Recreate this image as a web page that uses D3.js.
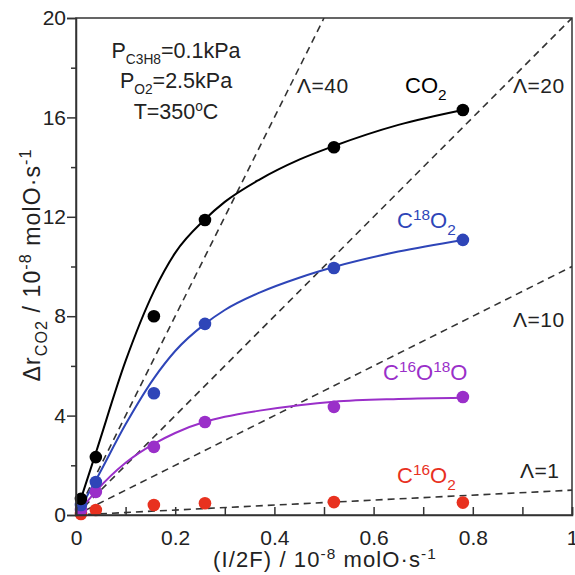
<!DOCTYPE html>
<html>
<head>
<meta charset="utf-8">
<script src="https://cdn.jsdelivr.net/npm/d3@7"></script>
<style>
  html, body { margin: 0; padding: 0; background: #fff; }
  svg { display: block; font-family: "Liberation Sans", Arial, sans-serif; }
</style>
</head>
<body>
<svg id="chart" width="575" height="575"></svg>
<script>
// measured points (x = I/2F, y = delta r)
const xs = [0.01, 0.04, 0.157, 0.26, 0.52, 0.78];
const co2 = [0.65, 2.33, 8.0, 11.87, 14.8, 16.3];
const c18o2 = [0.4, 1.33, 4.9, 7.69, 9.94, 11.07];
const c16o18o = [0.2, 0.93, 2.74, 3.74, 4.35, 4.75];
const c16o2 = [0.04, 0.2, 0.4, 0.47, 0.52, 0.5];

// fitted curves
const fitX = [0.005, 0.04, 0.1, 0.157, 0.2, 0.26, 0.3, 0.37, 0.45, 0.52, 0.65, 0.78];
const co2Fit = [0.35, 2.5, 6.2, 9.0, 10.55, 11.9, 12.6, 13.5, 14.3, 14.85, 15.7, 16.3];
const c18o2Fit = [0.15, 1.4, 3.65, 5.5, 6.6, 7.69, 8.25, 8.95, 9.55, 9.98, 10.6, 11.07];
const c16o18oFit = [0.1, 0.95, 2.1, 2.86, 3.3, 3.75, 3.95, 4.2, 4.42, 4.56, 4.67, 4.72];

// selectivity lines
const lambdas = [1, 10, 20, 40];

const xTicks = [0, 0.2, 0.4, 0.6, 0.8, 1];
const xMinor = [0.1, 0.3, 0.5, 0.7, 0.9];
const yTicks = [0, 4, 8, 12, 16, 20];
const yMinor = [2, 6, 10, 14, 18];

const svg = d3.select("#chart");
const margin = { top: 18, right: 3, bottom: 60, left: 76 };
const W = 575, H = 575;

const x = d3.scaleLinear().domain([0, 1]).range([margin.left, W - margin.right]);
const y = d3.scaleLinear().domain([0, 20]).range([H - margin.bottom, margin.top]);

const axisColor = "#333";
const textColor = "#222";

svg.append("clipPath").attr("id", "plot-clip")
  .append("rect")
  .attr("x", x(0)).attr("y", y(20))
  .attr("width", x(1) - x(0)).attr("height", y(0) - y(20));

// dashed lambda lines
const plot = svg.append("g").attr("clip-path", "url(#plot-clip)");
plot.selectAll("line.lam")
  .data(lambdas)
  .join("line")
  .attr("class", "lam")
  .attr("x1", x(0)).attr("y1", y(0))
  .attr("x2", (d) => x(Math.min(1, 20 / d)))
  .attr("y2", (d) => y(d * Math.min(1, 20 / d)))
  .attr("stroke", axisColor)
  .attr("stroke-width", 1.6)
  .attr("stroke-dasharray", "7,5");

// fitted curves
const line = d3.line()
  .x((d) => x(d[0]))
  .y((d) => y(d[1]))
  .curve(d3.curveMonotoneX);

const fits = [
  { vals: co2Fit, color: "#000000" },
  { vals: c18o2Fit, color: "#2e45b8" },
  { vals: c16o18oFit, color: "#9a2fc9" }
];
fits.forEach((f) => {
  plot.append("path")
    .datum(fitX.map((v, i) => [v, f.vals[i]]))
    .attr("d", line)
    .attr("fill", "none")
    .attr("stroke", f.color)
    .attr("stroke-width", 2);
});

// points
const series = [
  { vals: c16o2, color: "#e8311f" },
  { vals: c16o18o, color: "#9a2fc9" },
  { vals: c18o2, color: "#2e45b8" },
  { vals: co2, color: "#000000" }
];
series.forEach((s) => {
  svg.append("g")
    .selectAll("circle")
    .data(xs.map((v, i) => [v, s.vals[i]]))
    .join("circle")
    .attr("cx", (d) => x(d[0]))
    .attr("cy", (d) => y(d[1]))
    .attr("r", 6.3)
    .attr("fill", s.color);
});

// axes
const fmtX = (d) => (d === 0 || d === 1 ? d3.format("d")(d) : d3.format(".1f")(d));

svg.append("g")
  .attr("transform", `translate(0,${y(0)})`)
  .call(d3.axisBottom(x).tickValues(xTicks).tickSize(-8).tickPadding(15).tickFormat(fmtX));
svg.append("g")
  .attr("transform", `translate(0,${y(0)})`)
  .call(d3.axisBottom(x).tickValues(xMinor).tickSize(-8).tickFormat(""))
  .call((g) => g.select(".domain").remove());

svg.append("g")
  .attr("transform", `translate(${x(0)},0)`)
  .call(d3.axisLeft(y).tickValues(yTicks).tickSize(9).tickPadding(1));
svg.append("g")
  .attr("transform", `translate(${x(0)},0)`)
  .call(d3.axisLeft(y).tickValues(yMinor).tickSize(5).tickFormat(""))
  .call((g) => g.select(".domain").remove());

svg.selectAll(".tick line").attr("stroke", axisColor).attr("stroke-width", 1.5);
svg.selectAll(".domain").attr("stroke", axisColor).attr("stroke-width", 1.5);
svg.selectAll(".tick text")
  .attr("font-size", 21)
  .attr("font-family", "Liberation Sans, Arial, sans-serif")
  .attr("fill", textColor);

// frame
svg.append("rect")
  .attr("x", x(0)).attr("y", y(20))
  .attr("width", x(1) - x(0)).attr("height", y(0) - y(20))
  .attr("fill", "none")
  .attr("stroke", axisColor)
  .attr("stroke-width", 1.5);

// helper: text made of parts, each [string, "sub"|"sup"|null]
function richText(g, parts, size, scale = 0.68) {
  const t = g.append("text").attr("font-size", size);
  let shift = 0;
  parts.forEach(([s, kind]) => {
    const ts = t.append("tspan").text(s);
    let target = 0;
    if (kind === "sub") target = 0.3 * size;
    if (kind === "sup") target = -0.38 * size;
    if (kind) ts.attr("font-size", size * scale);
    ts.attr("dy", target - shift);
    shift = target;
  });
  return t;
}

// conditions box
const cond = [
  { parts: [["P", null], ["C3H8", "sub"], ["=0.1kPa", null]], y: 58 },
  { parts: [["P", null], ["O2", "sub"], ["=2.5kPa", null]], y: 88 },
  { parts: [["T=350", null], ["o", "sup"], ["C", null]], y: 119 }
];
cond.forEach((c) => {
  richText(svg.append("g").attr("transform", `translate(176,${c.y})`), c.parts, 21.5, 0.64)
    .attr("text-anchor", "middle").attr("fill", textColor);
});

// lambda labels
const lamLabels = [
  { t: "\u039B=40", x: 297, y: 93 },
  { t: "\u039B=20", x: 513, y: 93 },
  { t: "\u039B=10", x: 513, y: 327 },
  { t: "\u039B=1", x: 520, y: 478 }
];
lamLabels.forEach((l) => {
  svg.append("text")
    .attr("x", l.x).attr("y", l.y)
    .attr("font-size", 21)
    .attr("letter-spacing", 0.5)
    .attr("fill", textColor)
    .text(l.t);
});

// series labels
const seriesLabels = [
  { parts: [["CO", null], ["2", "sub"]], x: 405, y: 93, color: "#000" },
  { parts: [["C", null], ["18", "sup"], ["O", null], ["2", "sub"]], x: 397, y: 228, color: "#2e45b8" },
  { parts: [["C", null], ["16", "sup"], ["O", null], ["18", "sup"], ["O", null]], x: 383, y: 380, color: "#9a2fc9" },
  { parts: [["C", null], ["16", "sup"], ["O", null], ["2", "sub"]], x: 397, y: 483, color: "#e8311f" }
];
seriesLabels.forEach((l) => {
  richText(svg.append("g").attr("transform", `translate(${l.x},${l.y})`), l.parts, 22, 0.7)
    .attr("fill", l.color);
});

// axis titles
richText(svg.append("g").attr("transform", `translate(325,567)`),
  [["(I/2F) / 10", null], ["-8", "sup"], [" molO\u00B7s", null], ["-1", "sup"]], 22, 0.7)
  .attr("text-anchor", "middle").attr("letter-spacing", 1.1).attr("fill", textColor);

richText(svg.append("g").attr("transform", `translate(40,265) rotate(-90)`),
  [["\u0394r", null], ["CO2", "sub"], [" / 10", null], ["-8", "sup"], [" molO\u00B7s", null], ["-1", "sup"]], 23, 0.7)
  .attr("text-anchor", "middle").attr("letter-spacing", 1.1).attr("fill", textColor);
</script>
</body>
</html>
